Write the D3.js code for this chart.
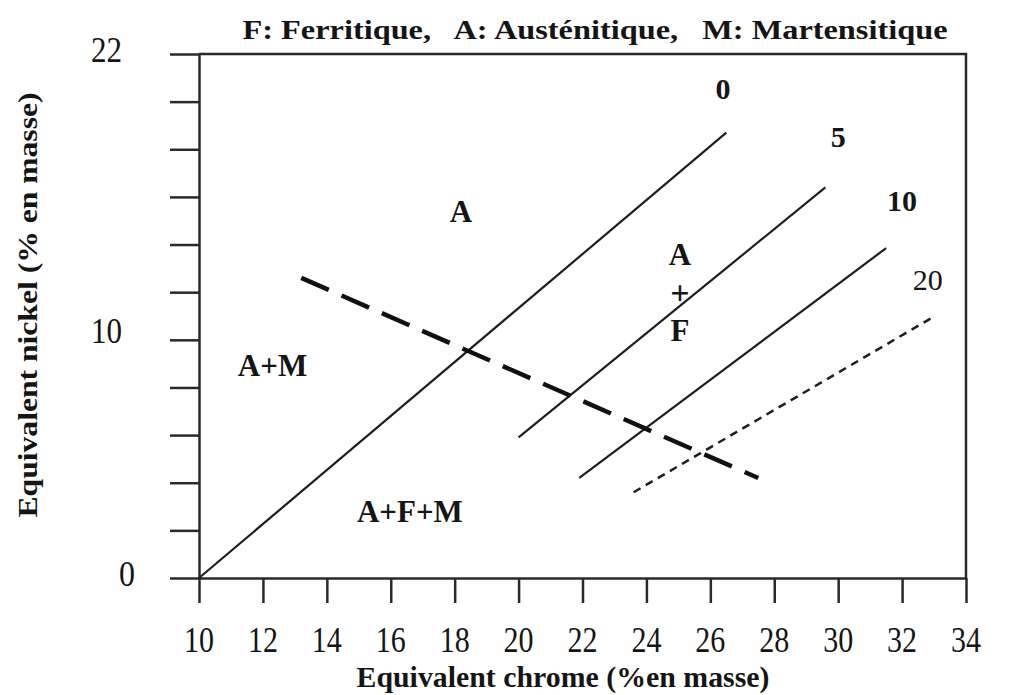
<!doctype html>
<html>
<head>
<meta charset="utf-8">
<title>Diagramme de Schaeffler</title>
<script src="https://d3js.org/d3.v7.min.js"></script>
<style>
  body { margin:0; background:#fff; }
  svg { display:block; font-family:"Liberation Serif","Times New Roman",serif; }
  .axis path, .axis line { stroke:#2a2a2a; stroke-width:2.5px; }
  .frame { stroke:#2a2a2a; stroke-width:2.5px; fill:none; }
  .curve { stroke:#1e1e1e; stroke-width:2.2px; fill:none; }
  text { fill:#151515; }
</style>
</head>
<body>
<svg id="chart" width="1010" height="695"></svg>
<script>
// axes
var xTicks = [10,12,14,16,18,20,22,24,26,28,30,32,34]
var yTicks = [0,2,4,6,8,10,12,14,16,18,20,22]
var yLabels = [0,10,22]

// lignes de ferrite (% ferrite)
var line0  = [[10,0],[26.5,18.7]]
var line5  = [[20.0,5.9],[29.6,16.4]]
var line10 = [[21.9,4.2],[31.5,13.85]]
var line20 = [[23.6,3.6],[32.9,10.9]]
// limite martensite (tirets epais)
var msLine = [[13.2,12.6],[27.5,4.2]]

var ferriteNames = ["0","5","10","20"]
var ferriteLabelPos = [[26.4,20.1],[30.0,18.1],[32.0,15.4],[32.8,12.1]]

var regionNames = ["A","A+M","A+F+M"]
var regionPos = [[18.2,14.95],[12.3,8.5],[16.6,2.35]]

var svg = d3.select("#chart")
var x = d3.scaleLinear().domain([10,34]).range([199,966])
var y = d3.scaleLinear().domain([0,22]).range([578,54])

// axe x
svg.append("g").attr("class","axis")
  .attr("transform","translate(0,"+y(0)+")")
  .call(d3.axisBottom(x).tickValues(xTicks).tickSize(25).tickSizeOuter(0).tickFormat(""))
svg.append("g").attr("class","axis")
  .attr("transform","translate("+x(10)+",0)")
  .call(d3.axisLeft(y).tickValues(yTicks).tickSize(29).tickSizeOuter(0).tickFormat(""))

// cadre haut et droit
svg.append("path").attr("class","frame")
  .attr("d", d3.line()([[x(10),y(22)],[x(34),y(22)],[x(34),y(0)]]))

// tick labels
svg.selectAll(".xl").data(xTicks).enter().append("text")
  .attr("x", d => x(d)).attr("y", 652)
  .attr("text-anchor","middle")
  .style("font-size","35px")
  .attr("textLength",30).attr("lengthAdjust","spacingAndGlyphs")
  .text(d => d)

svg.selectAll(".yl").data(yLabels).enter().append("text")
  .attr("x", d => d == 0 ? 135 : 122).attr("y", d => y(d) + (d == 10 ? 3 : 8))
  .attr("text-anchor","end")
  .style("font-size","35px")
  .attr("textLength", d => d == 0 ? 16 : 31).attr("lengthAdjust","spacingAndGlyphs")
  .text(d => d)

// titres
svg.append("text")
  .attr("x", 595).attr("y", 39).attr("text-anchor","middle")
  .style("font-size","28px").style("font-weight","bold")
  .attr("textLength",705).attr("lengthAdjust","spacingAndGlyphs")
  .attr("xml:space","preserve")
  .text("F: Ferritique,   A: Austénitique,   M: Martensitique")

svg.append("text")
  .attr("x", 563).attr("y", 687).attr("text-anchor","middle")
  .style("font-size","30px").style("font-weight","bold")
  .attr("textLength",413).attr("lengthAdjust","spacingAndGlyphs")
  .text("Equivalent chrome (%en masse)")

svg.append("text")
  .attr("transform","translate(37,305) rotate(-90)")
  .attr("text-anchor","middle")
  .style("font-size","27px").style("font-weight","bold")
  .attr("textLength",425).attr("lengthAdjust","spacingAndGlyphs")
  .text("Equivalent nickel (% en masse)")

// lignes
var line = d3.line().x(d => x(d[0])).y(d => y(d[1]))
;[line0,line5,line10].forEach(function(l) {
  svg.append("path").attr("class","curve").attr("d", line(l))
})
svg.append("path").attr("class","curve").attr("d", line(line20))
  .style("stroke-dasharray","8,6").style("stroke-width","2.5px")
svg.append("path").attr("class","curve").attr("d", line(msLine))
  .style("stroke","#111").style("stroke-width","4.5px").style("stroke-dasharray","30,14")

// etiquettes des lignes
svg.selectAll(".fl").data(ferriteNames).enter().append("text")
  .attr("x", (d,i) => x(ferriteLabelPos[i][0]))
  .attr("y", (d,i) => y(ferriteLabelPos[i][1]))
  .attr("text-anchor","middle")
  .style("font-size","30px")
  .style("font-weight", d => d == "20" ? "normal" : "bold")
  .text(d => d)

// regions
svg.selectAll(".rl").data(regionNames).enter().append("text")
  .attr("x", (d,i) => x(regionPos[i][0]))
  .attr("y", (d,i) => y(regionPos[i][1]))
  .attr("text-anchor","middle")
  .style("font-size","31px").style("font-weight","bold")
  .text(d => d)

// A + F empile
var afText = ["A","+","F"]
var afY = [13.15,11.5,9.95]
svg.selectAll(".af").data(afText).enter().append("text")
  .attr("x", x(25.05))
  .attr("y", (d,i) => y(afY[i]))
  .attr("text-anchor","middle")
  .style("font-size", d => d == "+" ? "34px" : "31px")
  .style("font-weight", "bold")
  .text(d => d)
</script>
</body>
</html>
